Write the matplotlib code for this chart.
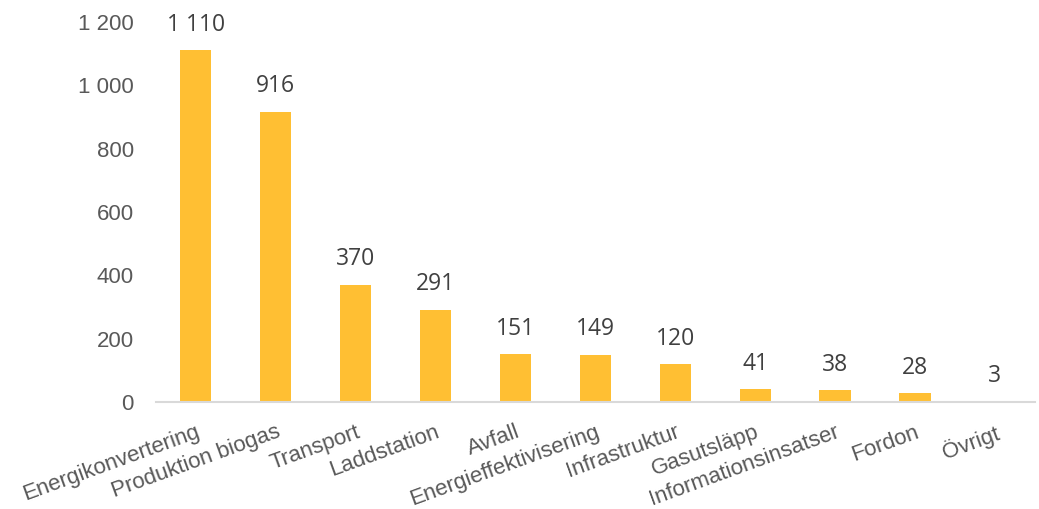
import numpy as np
import matplotlib.pyplot as plt

# data
kategorier = ['Energikonvertering', 'Produktion biogas', 'Transport', 'Laddstation',
              'Avfall', 'Energieffektivisering', 'Infrastruktur', 'Gasutsläpp',
              'Informationsinsatser', 'Fordon', 'Övrigt']
varden = [1110, 916, 370, 291, 151, 149, 120, 41, 38, 28, 3]
yticks = [0, 200, 400, 600, 800, 1000, 1200]


def fmt(v):
    # svensk tusentalsavgränsare (mellanslag)
    return f'{v:,}'.replace(',', ' ')


plt.rcParams['font.family'] = ['Liberation Sans', 'DejaVu Sans']

fig = plt.figure(figsize=(10.39, 5.09), dpi=100)
ax = fig.add_axes([0.150, 0.21, 0.846, 0.747])

x = np.arange(len(kategorier))
ax.bar(x, varden, width=0.39, color='#FFBF33', zorder=2)

# värdeetiketter ovanför staplarna
for xi, v in zip(x, varden):
    ax.annotate(fmt(v), (xi, v), xytext=(0, 14), textcoords='offset points',
                ha='center', va='baseline', fontsize=16.5, color='#404040',
                family=['Open Sans', 'DejaVu Sans'], annotation_clip=False)

ax.set_xlim(-0.5, len(kategorier) - 0.5)
ax.set_ylim(0, 1200)
ax.set_yticks(yticks)
ax.set_yticklabels([fmt(t) for t in yticks], fontsize=16, color='#595959')
ax.set_xticks(x)
ax.set_xticklabels(kategorier, rotation=20, ha='right', rotation_mode='anchor',
                   fontsize=16, color='#595959')

for s in ['top', 'right', 'left']:
    ax.spines[s].set_visible(False)
ax.spines['bottom'].set_color('#D9D9D9')
ax.spines['bottom'].set_linewidth(1.5)
ax.tick_params(axis='both', length=0)
ax.tick_params(axis='y', pad=16)
ax.tick_params(axis='x', pad=14)

fig.savefig('out.png', dpi=100)
